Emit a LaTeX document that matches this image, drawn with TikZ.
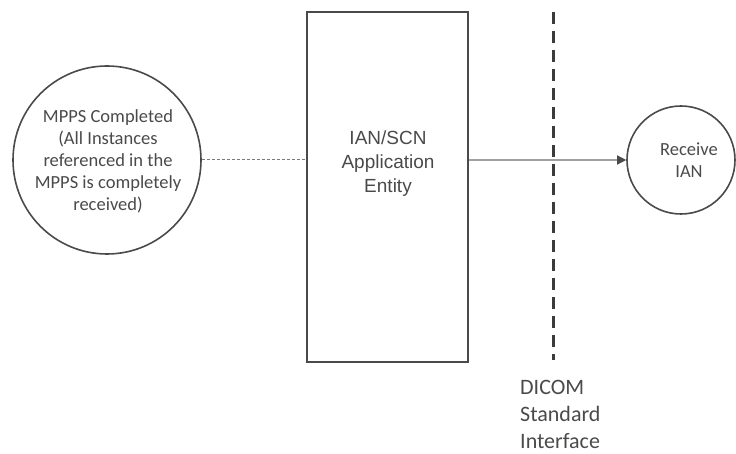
\documentclass[tikz,border=0pt]{standalone}
\usepackage{fontspec}
\setmainfont{Carlito}
\newfontfamily\arialfont{Liberation Sans}
\usetikzlibrary{arrows.meta}
\definecolor{txtgray}{HTML}{4A4A4A}
\definecolor{linegray}{HTML}{4A4A4A}
\definecolor{arrgray}{HTML}{A0A0A0}
\definecolor{dotgray}{HTML}{7A7A7A}
\begin{document}
\begin{tikzpicture}[x=1pt,y=-1pt,
  shapeline/.style={draw=linegray,line width=1.6pt},
  lbl/.style={text=txtgray,align=center,inner sep=0pt},
]
\useasboundingbox (0,0) rectangle (736,454);
% left circle
\node[shapeline,circle,minimum size=188pt,inner sep=0pt] (mpps) at (107,160) {};
\node[lbl,font=\fontsize{18.5}{22}\selectfont] (mppst) at (108,161)
  {MPPS Completed\\(All Instances\\referenced in the\\MPPS is completely\\received)};
% rectangle
\node[shapeline,rectangle,minimum width=161pt,minimum height=350pt,inner sep=0pt] (ae) at (387.5,187) {};
\node[lbl,font=\arialfont\fontsize{19}{24}\selectfont] (aet) at (388,164)
  {IAN/SCN\\Application\\Entity};
% right circle
\node[shapeline,circle,minimum size=108pt,inner sep=0pt] (recv) at (681,160) {};
\node[lbl,font=\fontsize{18.5}{22}\selectfont] (recvt) at (689,160) {Receive\\IAN};
% dashed interface line
\coordinate (dtop) at (553,12);
\coordinate (dbot) at (553,360);
\draw[draw=linegray!80!black,line width=3pt,dash pattern=on 12pt off 7pt] (dtop) -- (dbot);
\node[text=txtgray,align=left,inner sep=0pt,anchor=west,font=\fontsize{22}{27}\selectfont] (dicom) at (520,414)
  {DICOM\\Standard\\Interface};
% connectors
\draw[dotgray,line width=1pt,dash pattern=on 3pt off 2pt] (mpps.east) -- (ae.west|-mpps.east);
\draw[arrgray,line width=1.3pt,-{Triangle[length=9pt,width=9pt,fill=linegray,color=linegray]}] (ae.east|-recv.west) -- (recv.west);
\end{tikzpicture}
\end{document}
